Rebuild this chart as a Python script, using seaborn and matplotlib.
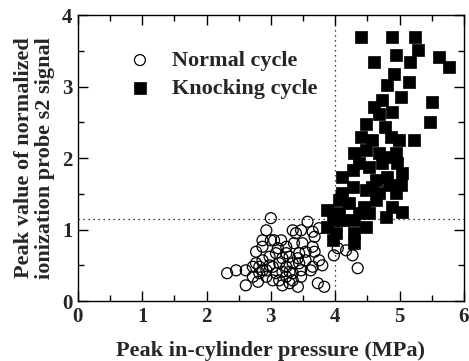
"""Peak ionization probe signal vs peak in-cylinder pressure."""

import matplotlib.pyplot as plt
import numpy as np
import pandas as pd
import seaborn as sns
from matplotlib.ticker import MultipleLocator

# Normal cycles (open circles)
normal_p = [2.32, 2.46, 2.61, 2.61, 2.77, 2.77, 2.87, 2.93, 3.00, 3.05, 3.16, 3.24, 3.34,
            3.39, 3.47, 3.57, 3.65, 3.68, 3.75, 3.36, 3.49, 3.65, 3.44, 3.24, 3.08, 2.98,
            2.87, 2.82, 2.93, 3.03, 3.13, 3.24, 3.34, 3.44, 3.54, 3.65, 3.75, 3.80, 3.62,
            3.47, 3.34, 3.24, 3.13, 3.03, 2.93, 2.82, 2.72, 2.80, 3.18, 3.29, 3.42, 3.73,
            3.83, 3.34, 3.47, 3.00, 3.11, 3.29, 3.18, 3.42, 3.08, 3.18, 3.29, 3.98, 4.04,
            4.17, 4.27, 4.35, 4.09, 4.14, 3.68, 3.54, 2.87, 2.72, 2.98, 2.87]
normal_s = [0.39, 0.43, 0.43, 0.22, 0.53, 0.69, 0.76, 0.99, 1.16, 0.85, 0.85, 0.76, 0.99,
            0.95, 0.99, 1.11, 0.97, 0.90, 1.02, 0.81, 0.81, 0.76, 0.67, 0.67, 0.67, 0.62,
            0.57, 0.48, 0.43, 0.48, 0.53, 0.48, 0.53, 0.53, 0.57, 0.48, 0.57, 0.50, 0.43,
            0.43, 0.39, 0.34, 0.29, 0.29, 0.34, 0.39, 0.34, 0.27, 0.22, 0.25, 0.20, 0.25,
            0.20, 0.29, 0.34, 0.85, 0.74, 0.62, 0.60, 0.60, 0.39, 0.41, 0.41, 0.64, 0.74,
            0.71, 0.64, 0.46, 1.48, 1.13, 0.69, 0.69, 0.85, 0.48, 0.50, 0.43]

# Knocking cycles (filled squares)
knock_p = [4.40, 4.89, 5.24, 5.28, 4.60, 4.94, 5.16, 5.61, 5.77, 5.15, 4.91, 4.81, 5.02,
           5.51, 4.73, 4.60, 4.89, 4.68, 5.48, 4.48, 4.78, 5.23, 4.40, 4.58, 4.86, 4.29,
           4.48, 4.68, 4.94, 4.11, 4.27, 4.37, 4.53, 4.73, 4.96, 5.04, 4.81, 4.63, 4.11,
           4.27, 4.48, 4.68, 4.84, 5.02, 4.94, 4.06, 4.22, 4.45, 4.63, 5.04, 4.79, 3.88,
           3.96, 4.11, 4.29, 3.88, 4.01, 4.29, 4.29, 4.48, 3.96, 4.06, 4.37, 4.53, 4.89,
           4.58, 4.78, 4.99]
knock_s = [3.70, 3.70, 3.70, 3.51, 3.35, 3.44, 3.35, 3.42, 3.28, 3.07, 3.18, 3.02, 2.86,
           2.79, 2.81, 2.72, 2.65, 2.62, 2.51, 2.48, 2.44, 2.25, 2.30, 2.25, 2.30, 2.07,
           2.11, 2.07, 2.07, 1.74, 1.83, 1.93, 1.88, 1.93, 1.93, 1.79, 1.74, 1.69, 1.51,
           1.60, 1.55, 1.51, 1.62, 1.62, 1.51, 1.41, 1.37, 1.32, 1.41, 1.25, 1.18, 1.27,
           1.13, 1.13, 1.13, 1.04, 0.95, 0.95, 0.81, 1.04, 0.85, 1.23, 1.23, 1.23, 1.32,
           1.60, 2.02, 2.25]

PRESSURE_LIMIT = 4.0
SIGNAL_LIMIT = 1.15


def main() -> None:
    sns.set_theme(style="ticks")
    plt.rcParams["font.family"] = ["Liberation Serif", "DejaVu Serif"]

    normal = pd.DataFrame({"p": normal_p, "s": normal_s})
    knock = pd.DataFrame({"p": knock_p, "s": knock_s})

    fig = plt.figure(figsize=(4.69, 3.61), dpi=100)
    ax = fig.add_axes([0.166, 0.166, 0.823, 0.792])

    ax.axvline(PRESSURE_LIMIT, color="black", linestyle=(0, (1, 3)), linewidth=0.9, zorder=1)
    ax.axhline(SIGNAL_LIMIT, color="black", linestyle=(0, (1, 3)), linewidth=0.9, zorder=1)

    sns.scatterplot(data=normal, x="p", y="s", ax=ax, marker="o", s=62,
                    facecolors="none", edgecolor="black", linewidth=0.9,
                    label="Normal cycle", zorder=3)
    sns.scatterplot(data=knock, x="p", y="s", ax=ax, marker="s", s=68,
                    color="black", edgecolor="black", linewidth=0.5,
                    label="Knocking cycle", zorder=4)

    ax.set_xlim(0, 6)
    ax.set_ylim(0, 4)
    ax.xaxis.set_major_locator(MultipleLocator(1))
    ax.xaxis.set_minor_locator(MultipleLocator(0.5))
    ax.yaxis.set_major_locator(MultipleLocator(1))
    ax.yaxis.set_minor_locator(MultipleLocator(0.5))
    ax.tick_params(which="both", direction="in", top=True, right=True,
                   color="black", width=1.0)
    ax.tick_params(which="major", length=7, labelsize=15, pad=4)
    ax.tick_params(which="minor", length=4)
    for lab in ax.get_xticklabels() + ax.get_yticklabels():
        lab.set_fontweight("bold")
    for spine in ax.spines.values():
        spine.set_color("black")
        spine.set_linewidth(1.0)

    ax.set_xlabel("Peak in-cylinder pressure (MPa)", fontsize=16, fontweight="bold",
                  labelpad=10)
    ax.set_ylabel("Peak value of normalized\nionization probe s2 signal", fontsize=16,
                  fontweight="bold", labelpad=5, linespacing=1.05)

    ax.legend(loc="upper left", bbox_to_anchor=(0.109, 0.908), frameon=False,
              handletextpad=0.95, labelspacing=0.32, borderaxespad=0,
              handlelength=1.0, prop={"size": 16, "weight": "bold"})

    fig.savefig("out.png", dpi=100)
    plt.close(fig)


if __name__ == "__main__":
    main()
